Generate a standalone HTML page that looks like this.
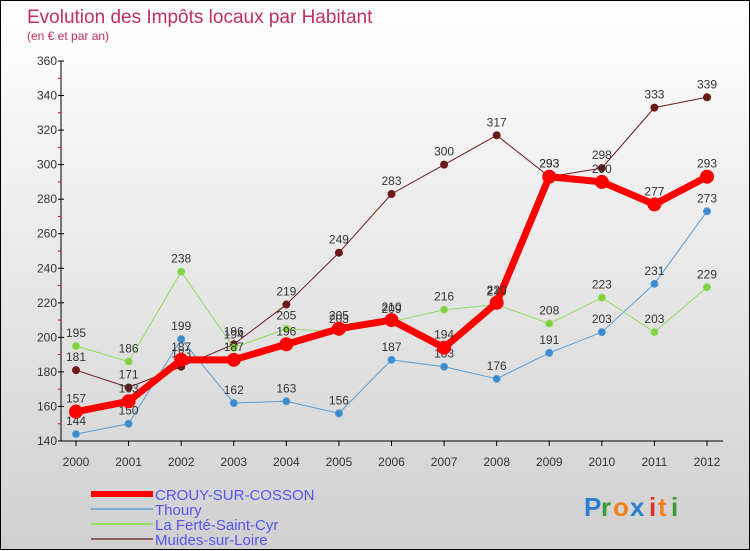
<!DOCTYPE html>
<html><head><meta charset="utf-8"><style>
html,body{margin:0;padding:0}
body{width:750px;height:550px;overflow:hidden;font-family:"Liberation Sans",sans-serif}
#wrap{position:relative;width:748px;height:548px;border:1px solid #000;background:linear-gradient(#ffffff,#d0d0d0)}
svg{position:absolute;left:0;top:0}
</style></head><body>
<div id="wrap">
<svg id="chart" width="750" height="550">
<text x="26" y="22" font-size="19" fill="#c0305a">Evolution des Impôts locaux par Habitant</text>
<text x="26" y="39" font-size="12" fill="#c0305a">(en € et par an)</text>
<g id="axes"></g>
<g id="series"></g>
<g id="legend"></g>
<g font-size="26" font-weight="bold">
<text x="583" y="515" fill="#2a7fd0">P</text><text x="600" y="515" fill="#3a9a3a">r</text><text x="612" y="515" fill="#f08020">o</text><text x="629" y="515" fill="#2a7fd0">x</text><text x="648" y="515" fill="#e03030">i</text><text x="657" y="515" fill="#f08020">t</text><text x="670" y="515" fill="#3a9a3a">i</text>
</g>
</svg>
</div>
<script>
const years=[2000,2001,2002,2003,2004,2005,2006,2007,2008,2009,2010,2011,2012];
const crouy=[157,163,187,187,196,205,210,194,220,293,290,277,293];
const thoury=[144,150,199,162,163,156,187,183,176,191,203,231,273];
const ferte=[195,186,238,194,205,203,209,216,219,208,223,203,229];
const muides=[181,171,183,196,219,249,283,300,317,293,298,333,339];
const yTicks=[140,160,180,200,220,240,260,280,300,320,340,360];
const NS='http://www.w3.org/2000/svg';
function x(i){return 75+i*(706-75)/(years.length-1);}
function y(v){return 440-(v-140)*(380/220);}
function mk(tag,attrs,parent){const e=document.createElementNS(NS,tag);for(const k in attrs)e.setAttribute(k,attrs[k]);parent.appendChild(e);return e;}
const ax=document.getElementById('axes');
let l=mk('line',{x1:60,y1:y(360),x2:60,y2:440,stroke:'#000'},ax);


l=mk('line',{x1:60,y1:440,x2:722,y2:440,stroke:'#000'},ax);


yTicks.forEach((v,i)=>{
 mk('line',{x1:57,y1:y(v),x2:63,y2:y(v),stroke:'#000'},ax);
 if(i<yTicks.length-1) mk('line',{x1:57,y1:y(v+10),x2:60,y2:y(v+10),stroke:'#e00'},ax);
 const t=mk('text',{x:56,y:y(v)+4,'font-size':12,fill:'#333','text-anchor':'end'},ax);
 t.textContent=v;
 
 
});
years.forEach((yr,i)=>{
 mk('line',{x1:x(i),y1:440,x2:x(i),y2:445,stroke:'#000'},ax);
 const t=mk('text',{x:x(i),y:465,'font-size':12,fill:'#333','text-anchor':'middle'},ax);
 t.textContent=yr;
 
 
});
const sg=document.getElementById('series');
function draw(data,name,color,width,r,fillc){
 const g=mk('g',{},sg);
 
 
 const p=mk('polyline',{points:data.map((v,i)=>x(i)+','+y(v)).join(' '),fill:'none',stroke:color,'stroke-width':width,'stroke-linejoin':'round'},g);
 
 
 data.forEach((v,i)=>{
  const c=mk('circle',{cx:x(i),cy:y(v),r:r,fill:fillc,stroke:color,'stroke-width':1},g);
  
  
  const t=mk('text',{x:x(i),y:y(v)-9,'font-size':12,fill:'#333','text-anchor':'middle'},g);
  t.textContent=v;
  
  
 });
}
draw(muides,'muides-series','#6b1a1a',1,3.5,'#6b1a1a');
draw(thoury,'thoury-series','#5a9bd0',1,3.5,'#3a8ad0');
draw(ferte,'ferte-series','#90dd60',1,3.5,'#80d040');
draw(crouy,'crouy-series','#ff0000',7,6.5,'#ff0000');
const lg=document.getElementById('legend');
const items=[['CROUY-SUR-COSSON','#ff0000',6],['Thoury','#7aaad0',2],['La Ferté-Saint-Cyr','#90dd60',2],['Muides-sur-Loire','#8a6060',2]];
items.forEach((it,i)=>{
 const yy=493+i*15;
 const g=mk('g',{},lg);
 
 
 mk('line',{x1:90,y1:yy,x2:152,y2:yy,stroke:it[1],'stroke-width':it[2]},g);
 const t=mk('text',{x:154,y:yy+6,'font-size':15,fill:'#5555ee'},g);
 t.textContent=it[0];
});
</script>
</body></html>
